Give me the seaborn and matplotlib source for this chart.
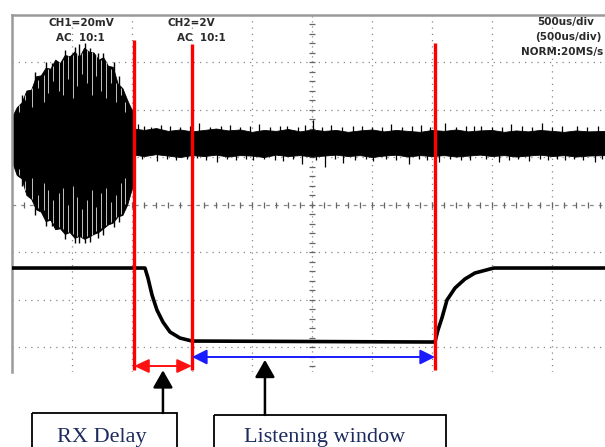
import numpy as np
import pandas as pd
import matplotlib
matplotlib.use("Agg")
from matplotlib import pyplot as plt
from matplotlib.patches import Rectangle
import seaborn as sns

# time in microseconds (500 us/div), amplitude in screen divisions
burst_t = [0, 40, 80, 120, 160, 200, 240, 280, 320, 360, 400, 440, 480, 520,
           560, 600, 640, 680, 720, 760, 800, 840, 880, 920, 960, 1000, 1017]
burst_top = [1.85, 2.05, 2.15, 2.40, 2.42, 2.70, 2.72, 2.88, 2.86, 3.05, 2.98, 3.15, 3.12, 3.22,
             3.10, 3.30, 3.22, 3.20, 3.05, 3.10, 2.92, 2.90, 2.55, 2.45, 2.20, 1.98, 1.90]
burst_bot = [0.90, 0.62, 0.55, 0.20, 0.12, -0.10, -0.15, -0.35, -0.32, -0.52, -0.50, -0.62, -0.58, -0.70,
             -0.66, -0.72, -0.68, -0.62, -0.58, -0.50, -0.42, -0.38, -0.25, -0.22, 0.0, 0.35, 0.60]

# light gaps between the carrier cycles inside the burst
gap_t = [60, 110, 170, 215, 265, 300, 345, 390, 425, 470, 505, 545, 585, 625, 665, 700,
         745, 785, 825, 865, 905, 945]
gap_up_lo = [1.95, 2.20, 2.05, 2.45, 2.15, 2.35, 2.60, 2.40, 2.30, 2.65, 2.25, 2.50, 2.75, 2.55,
             2.30, 2.70, 2.40, 2.25, 2.55, 2.15, 2.30, 1.95]
gap_up_hi = [2.10, 2.30, 2.45, 2.62, 2.72, 2.85, 2.92, 3.00, 3.05, 3.12, 3.15, 3.18, 3.20, 3.25,
             3.22, 3.15, 3.05, 3.00, 2.85, 2.55, 2.45, 2.15]
gap_dn_lo = [0.62, 0.30, 0.12, -0.08, -0.12, -0.30, -0.38, -0.48, -0.52, -0.58, -0.62, -0.66, -0.68,
             -0.66, -0.64, -0.56, -0.50, -0.44, -0.36, -0.26, -0.20, 0.02]
gap_dn_hi = [0.75, 0.50, 0.55, 0.20, 0.45, 0.30, 0.10, 0.25, 0.35, 0.00, 0.40, 0.15, -0.10, 0.10,
             0.30, -0.05, 0.25, 0.35, 0.05, 0.20, 0.45, 0.55]
burst_peak_t = [85, 190, 280, 330, 440, 525, 560, 610, 650, 720, 760, 850, 890]
burst_peak_v = [2.30, 2.80, 3.00, 2.98, 3.25, 3.32, 3.38, 3.40, 3.30, 3.20, 3.18, 3.00, 2.70]
burst_trough_v = [0.40, -0.22, -0.45, -0.45, -0.72, -0.80, -0.80, -0.82, -0.78, -0.70, -0.64, -0.48, -0.36]

noise_t = [1017, 1100, 1200, 1300, 1400, 1500, 1600, 1700, 1800, 1900, 2000, 2100, 2200, 2300,
           2400, 2500, 2600, 2700, 2800, 2900, 3000, 3100, 3200, 3300, 3400, 3500, 3600, 3700,
           3800, 3900, 4000, 4100, 4200, 4300, 4400, 4500, 4600, 4700, 4800, 4942]
noise_top = [1.60, 1.57, 1.61, 1.55, 1.58, 1.54, 1.57, 1.60, 1.56, 1.58, 1.53, 1.57, 1.55, 1.59,
             1.54, 1.58, 1.55, 1.57, 1.53, 1.56, 1.58, 1.54, 1.57, 1.55, 1.53, 1.57, 1.55, 1.58,
             1.54, 1.56, 1.57, 1.53, 1.56, 1.54, 1.57, 1.55, 1.53, 1.56, 1.54, 1.55]
noise_bot = [1.05, 1.02, 1.06, 1.03, 1.00, 1.04, 1.02, 1.05, 1.01, 1.04, 1.03, 1.00, 1.05, 1.02,
             1.04, 1.01, 1.03, 1.05, 1.02, 1.04, 1.00, 1.03, 1.05, 1.01, 1.04, 1.02, 1.04, 1.01,
             1.03, 1.05, 1.02, 1.04, 1.01, 1.03, 1.05, 1.02, 1.04, 1.01, 1.03, 1.04]
spike_up_t = [1050, 1100, 1160, 1240, 1320, 1400, 1480, 1560, 1650, 1740, 1820, 1900, 1980, 2060,
              2150, 2230, 2290, 2380, 2440, 2510, 2580, 2660, 2750, 2840, 2920, 3000, 3080, 3160,
              3250, 3330, 3410, 3480, 3610, 3700, 3780, 3850, 3910, 4000, 4080, 4160, 4250, 4330,
              4420, 4500, 4580, 4710, 4790, 4880]
spike_up_v = [1.70, 1.66, 1.64, 1.68, 1.66, 1.63, 1.65, 1.72, 1.64, 1.66, 1.68, 1.63, 1.65, 1.70,
              1.64, 1.66, 1.65, 1.63, 1.67, 1.78, 1.64, 1.68, 1.63, 1.65, 1.66, 1.64, 1.63, 1.70,
              1.64, 1.66, 1.67, 1.63, 1.72, 1.64, 1.65, 1.66, 1.66, 1.64, 1.63, 1.69, 1.65, 1.64,
              1.71, 1.63, 1.65, 1.66, 1.64, 1.65]
spike_dn_t = [1080, 1210, 1290, 1370, 1460, 1540, 1620, 1710, 1790, 1870, 1950, 2010, 2100, 2190,
              2260, 2340, 2420, 2530, 2610, 2690, 2760, 2860, 2950, 3010, 3120, 3200, 3310, 3390,
              3460, 3560, 3650, 3740, 3820, 3950, 4060, 4140, 4220, 4310, 4400, 4470, 4540, 4610,
              4680, 4760, 4860, 4920]
spike_dn_v = [0.95, 0.92, 0.96, 0.94, 0.95, 0.97, 0.93, 0.90, 0.96, 0.94, 0.95, 0.93, 0.96, 0.94,
              0.92, 0.95, 0.85, 0.94, 0.80, 0.95, 0.88, 0.94, 0.95, 0.92, 0.96, 0.94, 0.86, 0.95,
              0.93, 0.90, 0.95, 0.93, 0.94, 0.96, 0.89, 0.94, 0.96, 0.91, 0.95, 0.93, 0.95, 0.93,
              0.96, 0.94, 0.90, 0.95]

ch2_t = [0, 1108, 1133, 1167, 1208, 1258, 1317, 1400, 1500, 3525, 3550, 3583, 3625,
         3692, 3775, 3858, 3983, 4017, 4942]
ch2_v = [-1.337, -1.337, -1.547, -1.905, -2.221, -2.474, -2.684, -2.811, -2.874, -2.895, -2.642,
         -2.389, -2.011, -1.758, -1.568, -1.442, -1.358, -1.337, -1.337]

marker_t = [1017, 1500, 3525]
marker_top = [3.46, 3.38, 3.40]

labels = ["RX Delay", "Listening window"]

sns.set_theme(style="white")
fig = plt.figure(figsize=(6.05, 4.47), dpi=100)
ax = fig.add_axes([12 / 605, 1 - 372 / 447, 593 / 605, 357 / 447])
ax.set_xlim(0, 4942)
ax.set_ylim(-3.526, 3.99)
ax.set_xticks([])
ax.set_yticks([])
for s in ["bottom", "right"]:
    ax.spines[s].set_visible(False)
for s in ["left", "top"]:
    ax.spines[s].set_color("#9a9a9a")
    ax.spines[s].set_linewidth(1.8)

# graticule
grid_kw = dict(color="#888888", lw=0.9, ls=(0, (1, 4)), zorder=0)
for x in np.arange(500, 4942, 500):
    if x != 2500:
        ax.axvline(x, **grid_kw)
for y in [-3, -2, -1, 1, 2, 3]:
    ax.axhline(y, **grid_kw)
ax.axhline(0, color="#888888", lw=0.9, ls=(0, (3, 4)), zorder=0)
ax.axvline(2500, color="#888888", lw=0.9, ls=(0, (1, 3)), zorder=0)
tx = np.arange(0, 4942, 100)
ax.plot(tx, np.zeros_like(tx), ls="none", marker="|", ms=4, color="#666666", mew=0.9, zorder=0)
ty = np.arange(-3.4, 4.0, 0.2)
ax.plot(np.full_like(ty, 2500), ty, ls="none", marker="_", ms=4, color="#666666", mew=0.9, zorder=0)

# CH1: burst then noise floor
ax.fill_between(burst_t, burst_bot, burst_top, color="black", lw=0.6, zorder=2)
ax.vlines(burst_peak_t, 1.3, burst_peak_v, color="black", lw=1.0, zorder=2)
ax.vlines(burst_peak_t, burst_trough_v, 1.3, color="black", lw=1.0, zorder=2)
ax.vlines(gap_t, gap_up_lo, gap_up_hi, color="#c4c4c4", lw=0.7, zorder=2.5)
ax.vlines(gap_t, gap_dn_lo, gap_dn_hi, color="#c4c4c4", lw=0.7, zorder=2.5)
ax.fill_between(noise_t, noise_bot, noise_top, color="black", lw=0.6, zorder=2)
ax.vlines(spike_up_t, 1.4, spike_up_v, color="black", lw=0.9, zorder=2)
ax.vlines(spike_dn_t, spike_dn_v, 1.2, color="black", lw=0.9, zorder=2)

# CH2
ch2 = pd.DataFrame({"t": ch2_t, "v": ch2_v})
sns.lineplot(data=ch2, x="t", y="v", estimator=None, color="black", lw=2.6, ax=ax, zorder=3)
ax.set_xlabel("")
ax.set_ylabel("")

# cursors
ax.vlines(marker_t, -3.484, marker_top, color="#ff0000", lw=2.4, zorder=4)
ax.annotate("", xy=(marker_t[0], -3.40), xytext=(marker_t[1], -3.40),
            arrowprops=dict(arrowstyle="<|-|>,head_length=0.6,head_width=0.28", color="#ff1010",
                            lw=1.4, mutation_scale=15, shrinkA=0, shrinkB=0), zorder=5)
ax.annotate("", xy=(marker_t[1], -3.21), xytext=(marker_t[2], -3.21),
            arrowprops=dict(arrowstyle="<|-|>,head_length=0.6,head_width=0.3", color="#1a1aff",
                            lw=1.4, mutation_scale=15, shrinkA=0, shrinkB=0), zorder=5)

# callouts below the screen
ax.annotate("", xy=(1258, -3.49), xytext=(1258, -4.39), annotation_clip=False,
            arrowprops=dict(arrowstyle="-|>,head_length=0.7,head_width=0.4", color="black",
                            lw=1.8, mutation_scale=15, shrinkA=0, shrinkB=0))
ax.annotate("", xy=(2108, -3.27), xytext=(2108, -4.43), annotation_clip=False,
            arrowprops=dict(arrowstyle="-|>,head_length=0.7,head_width=0.4", color="black",
                            lw=1.8, mutation_scale=15, shrinkA=0, shrinkB=0))
ax.add_patch(Rectangle((167, -4.389), 1375 - 167, -2.0, fill=False, ec="black", lw=1.3, clip_on=False))
ax.add_patch(Rectangle((1683, -4.432), 3617 - 1683, -2.0, fill=False, ec="black", lw=1.3, clip_on=False))
ax.text(746, -5.0, labels[0], ha="center", va="baseline", family="Liberation Serif",
        fontsize=16, color="#1d2b5e", clip_on=False)
ax.text(2608, -5.0, labels[1], ha="center", va="baseline", family="Liberation Serif",
        fontsize=16, color="#1d2b5e", clip_on=False)

# scope readouts
def readout(px, py, s, ha="center"):
    fig.text(px / 605, 1 - py / 447, s, ha=ha, va="center", family="DejaVu Sans",
             weight="bold", fontsize=7.5, color="#2a2a2a")

readout(81, 23, "CH1=20mV")
readout(80, 38, "AC  10:1")
readout(191, 23, "CH2=2V")
readout(201, 38, "AC  10:1")
readout(594, 22, "500us/div", ha="right")
readout(601, 37, "(500us/div)", ha="right")
readout(603, 52, "NORM:20MS/s", ha="right")

fig.savefig("out.png", dpi=100)
